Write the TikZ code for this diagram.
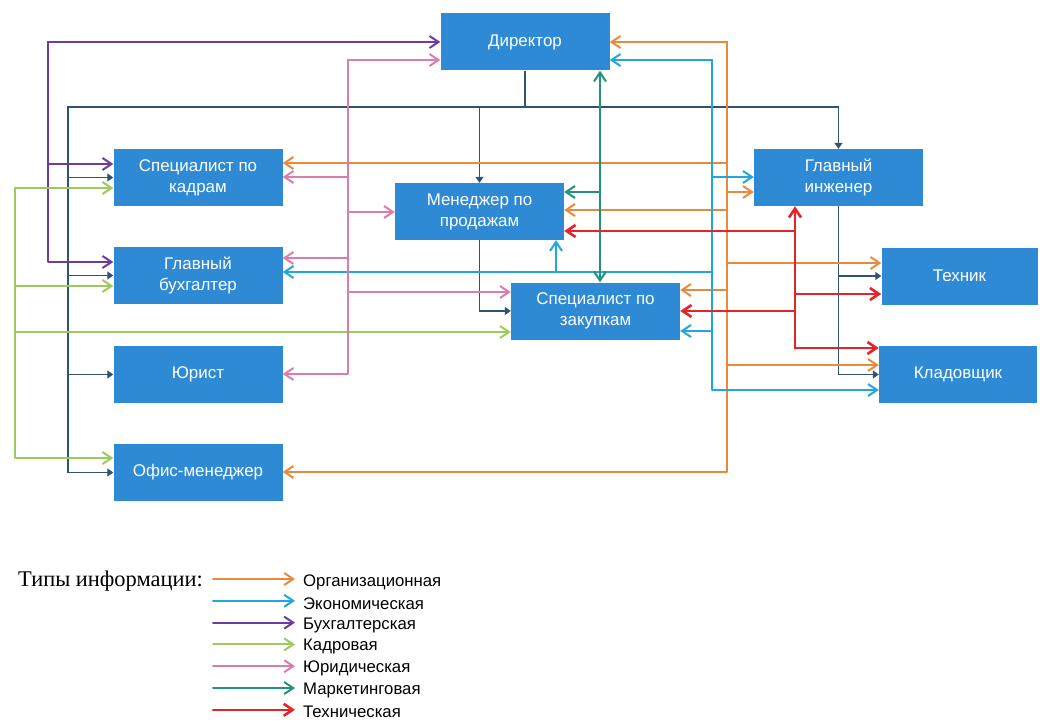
\documentclass[tikz,border=0pt]{standalone}
\usepackage{fontspec}
\setmainfont{Liberation Sans}
\newfontfamily\headfont{Liberation Serif}
\usetikzlibrary{arrows.meta}
\definecolor{boxcol}{HTML}{2E8AD5}
\definecolor{orgcol}{HTML}{E8893B}
\definecolor{ecocol}{HTML}{22A7DC}
\definecolor{acccol}{HTML}{6A3D9E}
\definecolor{hrcol}{HTML}{9CCB5C}
\definecolor{jurcol}{HTML}{DA7DAD}
\definecolor{mktcol}{HTML}{22937A}
\definecolor{teccol}{HTML}{E2252B}
\definecolor{ctlcol}{HTML}{2F5472}
\tikzset{
  box/.style={rectangle, fill=boxcol, text=white, minimum width=169bp, minimum height=57bp,
    inner sep=0pt, align=center, font=\fontsize{17}{21}\selectfont},
  wire/.style={line width=2bp, line cap=round, line join=round, >={Straight Barb[length=9bp,width=12bp]}},
  org/.style={wire, draw=orgcol},
  eco/.style={wire, draw=ecocol},
  acc/.style={wire, draw=acccol},
  hr/.style={wire, draw=hrcol},
  jur/.style={wire, draw=jurcol},
  mkt/.style={wire, draw=mktcol},
  tec/.style={wire, draw=teccol, line width=2.6bp},
  ctl/.style={draw=ctlcol, line width=1.3bp, >={Triangle[length=6bp,width=8bp]}},
  leg/.style={anchor=west, inner xsep=8bp, inner ysep=0pt, font=\fontsize{16.8}{19}\selectfont},
}

\begin{document}
\begin{tikzpicture}[x=1bp,y=-1bp]
  \useasboundingbox (0,0) rectangle (1040,724);
  % boxes
  \node[box] (dir) at (525,42) {Директор};
  \node[box] (sk) at (198,177.5) {Специалист по\\кадрам};
  \node[box] (gb) at (198,275.5) {Главный\\бухгалтер};
  \node[box] (law) at (198,374.5) {Юрист};
  \node[box] (om) at (198,472.5) {Офис-менеджер};
  \node[box] (mp) at (479.5,211.5) {Менеджер по\\продажам};
  \node[box] (sz) at (595.5,311) {Специалист по\\закупкам};
  \node[box] (gi) at (838.5,177.5) {Главный\\инженер};
  \node[box,minimum width=156bp] (tech) at (959.5,276) {Техник};
  \node[box,minimum width=158bp] (klad) at (958,374.5) {Кладовщик};
  % bus ends
  \coordinate (hub) at (525,107);
  \coordinate (cl) at (68,107);
  \coordinate (ot) at (727,42);
  \coordinate (et) at (712,60);
  \coordinate (ej) at (556,272);
  \coordinate (pt) at (48,42);
  \coordinate (gt) at (15,188);
  \coordinate (jt) at (348,60);
  \coordinate (mt) at (600,192);
  \coordinate (rb) at (795,348);
  % subordination
  \draw[ctl] (dir.south) -- (hub);
  \draw[ctl,->] (hub) -| (mp.north);
  \draw[ctl,->] (hub) -| (gi.north);
  \foreach \n in {sk,gb,law,om}
    \draw[ctl,->] (hub) -- (cl) |- (\n.west);
  \draw[ctl,->] (mp.south) |- (sz.west);
  \draw[ctl,->] (gi.south) |- (tech.west);
  \draw[ctl,->] (gi.south) |- (klad.west);
  % organisational
  \foreach \n/\s in {dir.east/0, sk.east/14.5, gi.west/-14.5, mp.east/1.5, tech.west/13, sz.east/21, klad.west/9.5, om.east/0.5}
    \draw[org,<-] ([yshift=\s bp]\n) -| (ot);
  % economic
  \foreach \n/\s in {dir.east/-18, gi.west/0.5, gb.east/3.5, sz.east/-20, klad.west/-15.5}
    \draw[eco,<-] ([yshift=\s bp]\n) -| (et);
  \draw[eco,->] (ej) -- (ej |- mp.south);
  % accounting
  \foreach \n/\s in {dir.west/0, sk.west/13.5, gb.west/13.5}
    \draw[acc,<-] ([yshift=\s bp]\n) -| (pt);
  % personnel
  \foreach \n/\s in {sk.west/-10.5, gb.west/-10.5, sz.west/-21, om.west/14.5}
    \draw[hr,<-] ([yshift=\s bp]\n) -| (gt);
  % legal
  \foreach \n/\s in {dir.west/-18, sk.east/0.5, mp.west/-0.5, gb.east/17.5, sz.west/19, law.east/0.5}
    \draw[jur,<-] ([yshift=\s bp]\n) -| (jt);
  % marketing
  \draw[mkt,<->] (sz.north -| mt) -- (dir.south -| mt);
  \draw[mkt,->] (mt) -- (mt -| mp.east);
  % technical
  \foreach \n/\s in {mp.east/-19.5, sz.east/0, tech.west/-18, klad.west/26.5}
    \draw[tec,<-] ([yshift=\s bp]\n) -| (rb);
  \draw[tec,->] (rb) -- (rb |- gi.south);
  % legend
  \node[anchor=west, inner sep=0pt, font=\headfont\fontsize{22.5}{26}\selectfont] (title) at (18,581) {Типы информации:};
  \foreach \c/\t [count=\i from 0] in {org/Организационная, eco/Экономическая, acc/Бухгалтерская,
      hr/Кадровая, jur/Юридическая, mkt/Маркетинговая, tec/Техническая} {
    \coordinate (a\i) at (213,579+21.8*\i);
    \node[leg] (l\i) at (295,582+21.6*\i) {\t};
    \draw[\c,->] (a\i) -- (a\i -| l\i.west);
  }
\end{tikzpicture}
\end{document}
